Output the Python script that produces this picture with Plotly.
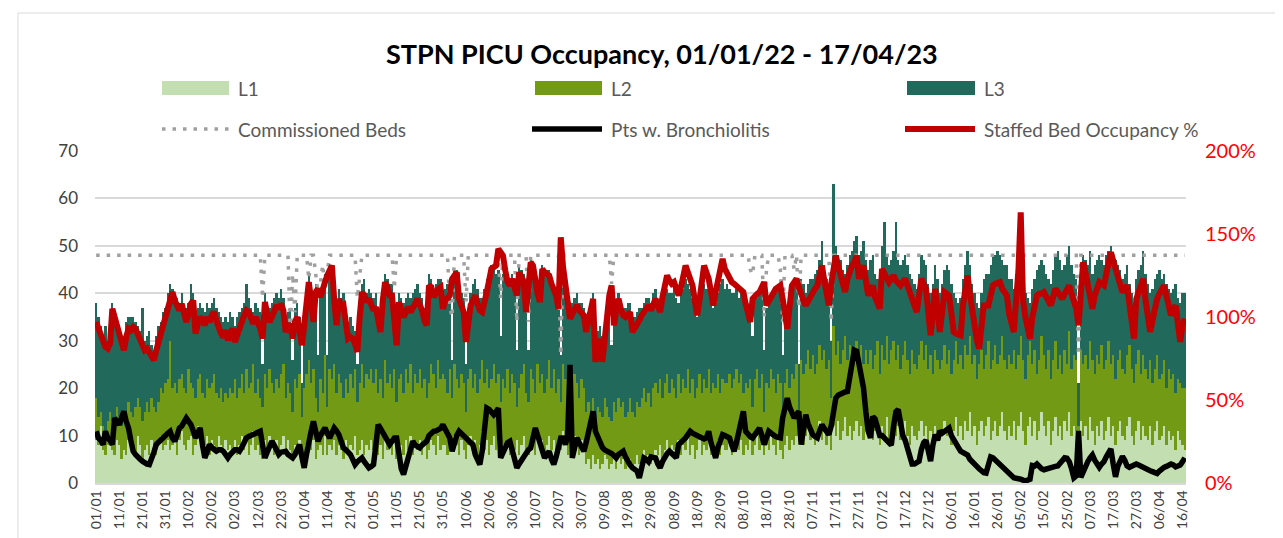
import pandas as pd
import plotly.graph_objects as go

start_date = "2022-01-01"

# ---- daily values, one row per month (Jan 2022 ... Apr 2023) ----
l1 = [
    9,8,12,7,6,8,10,7,6,9,8,5,7,6,9,8,7,6,10,8,5,7,8,6,9,7,6,8,10,7,8,
    9,7,8,10,6,9,11,8,7,9,10,6,8,12,9,7,8,10,6,9,8,7,10,8,6,9,7,8,
    7,9,6,8,10,7,9,6,8,11,7,8,6,5,9,7,10,8,6,9,7,8,10,6,9,7,5,8,6,9,5,
    6,8,10,7,9,5,7,8,6,10,6,8,7,9,6,8,7,5,9,6,8,7,10,6,7,9,6,8,7,9,
    7,9,6,8,5,10,7,8,6,9,5,7,8,6,9,7,10,6,8,7,9,6,8,5,7,9,8,6,10,7,8,
    8,6,9,7,10,8,6,9,7,5,8,10,7,9,6,8,11,7,9,6,8,10,7,9,6,8,7,9,6,8,
    7,9,6,8,10,7,6,9,8,6,10,7,9,6,8,10,7,9,6,8,7,11,8,6,9,7,10,8,6,9,7,
    4,5,3,6,4,5,3,4,6,5,3,4,5,3,6,4,5,3,4,5,3,4,6,4,5,7,5,6,4,6,7,
    6,8,5,7,9,6,8,7,5,9,6,8,7,10,6,8,5,7,9,6,8,7,10,6,8,7,9,6,8,7,
    7,9,6,8,10,7,9,6,8,7,9,6,8,10,7,9,6,8,7,10,8,6,9,7,5,8,10,7,9,8,10,
    9,11,8,10,12,9,11,8,10,13,9,11,8,10,7,12,10,13,9,11,14,10,12,9,11,13,10,12,9,11,
    10,12,9,11,13,8,12,10,14,9,11,13,10,12,9,11,13,10,8,12,10,9,11,13,10,12,9,11,8,12,10,
    9,11,13,10,12,8,11,14,10,12,9,13,11,15,10,12,8,11,13,10,12,14,9,11,13,10,12,15,11,9,12,
    10,13,9,12,15,11,8,12,14,10,13,9,11,15,12,10,13,8,11,14,10,12,9,13,11,15,10,12,
    11,5,13,10,12,9,14,11,8,12,10,13,9,11,14,10,12,8,11,13,10,9,12,14,10,8,11,13,9,12,10,
    9,12,8,11,13,9,10,12,8,11,9,10,7,11,9,8,7,
]
l2 = [
    9,6,3,5,5,5,5,6,6,7,6,7,6,8,8,7,7,10,8,8,8,8,9,9,9,9,9,9,10,12,13,
    13,23,12,11,13,13,12,12,12,15,11,14,10,10,14,12,10,12,14,12,15,12,8,12,11,10,11,12,
    12,13,12,12,13,12,15,14,13,14,12,14,12,11,14,13,14,13,13,13,13,15,15,12,12,12,10,14,14,14,9,
    14,15,16,14,15,13,8,14,13,17,10,16,15,16,13,15,14,13,13,13,15,13,14,11,14,16,14,15,15,15,
    14,15,13,14,13,16,14,15,14,15,12,15,15,13,15,14,15,13,15,14,15,14,14,13,14,16,15,14,16,15,15,
    14,13,15,11,15,14,14,14,14,10,14,14,13,14,13,14,15,14,15,14,14,15,14,14,11,14,13,15,13,15,
    14,7,14,15,15,12,11,15,14,13,15,14,14,13,14,16,13,15,13,14,10,14,14,12,12,12,13,13,12,13,13,
    11,12,11,12,9,11,12,10,12,11,11,9,12,12,12,12,12,11,11,13,12,10,11,12,13,13,12,13,12,14,14,
    13,14,13,14,14,13,14,13,13,14,13,14,13,14,13,14,13,13,14,13,14,13,14,13,13,13,14,13,14,14,
    14,14,14,14,14,14,14,13,13,13,13,10,14,14,13,14,9,13,13,14,14,13,14,14,9,13,14,13,14,14,15,
    6,15,15,15,16,15,16,15,15,16,17,17,16,16,11,21,17,17,16,17,17,16,17,16,17,17,16,17,16,17,
    15,16,15,16,17,15,17,16,17,16,17,17,16,17,15,16,17,16,15,16,15,15,16,17,16,17,15,16,15,16,16,
    15,15,16,15,16,15,15,16,15,15,15,16,16,16,15,15,14,14,15,14,15,16,15,15,16,15,15,16,15,15,15,
    15,15,15,15,16,15,14,15,16,15,15,14,15,16,15,14,15,14,15,16,14,15,14,15,14,17,14,15,
    15,7,15,15,15,15,16,15,15,15,15,16,15,15,16,15,15,14,15,15,14,14,15,15,14,13,14,15,14,15,14,
    13,14,13,13,14,13,13,14,12,13,13,13,12,11,12,12,13,
]
l3 = [
    20,21,18,19,22,17,17,25,24,18,19,19,17,20,18,20,21,18,15,16,24,15,14,17,11,12,16,16,14,17,16,
    18,12,21,19,20,16,17,17,18,14,21,20,17,15,15,18,18,16,17,17,16,18,18,15,17,16,16,16,
    16,11,17,16,14,19,18,19,16,11,19,15,18,9,17,18,13,17,20,18,19,18,14,17,15,18,11,15,18,12,7,
    17,17,18,20,14,24,12,19,24,17,11,22,23,16,18,18,18,22,14,15,12,13,8,8,17,17,23,17,19,16,
    18,16,18,13,23,18,22,19,22,14,16,18,16,19,15,19,14,21,18,21,16,19,15,18,23,18,18,22,17,21,17,
    19,23,19,8,20,23,22,17,18,10,15,16,22,20,22,17,13,20,19,25,24,20,23,22,14,22,24,19,23,21,
    22,12,26,22,19,20,11,23,24,25,17,19,23,26,23,19,23,18,22,17,10,19,20,22,16,19,16,19,20,16,17,
    20,19,24,22,18,16,18,17,16,22,26,16,19,23,22,22,20,23,23,20,20,21,19,21,19,18,22,20,22,20,20,
    18,14,20,19,18,21,18,21,21,15,21,19,23,18,22,17,19,15,15,21,20,21,16,20,16,18,17,23,21,20,
    21,18,20,18,17,18,17,20,16,15,12,15,17,15,20,18,13,16,18,15,18,21,18,21,13,15,10,17,18,20,18,
    10,17,19,15,14,19,16,21,20,18,25,18,19,14,12,30,23,18,22,17,13,20,19,24,23,22,22,20,26,19,
    20,19,24,17,13,19,21,29,17,21,19,19,29,18,22,20,18,20,21,15,17,17,17,18,21,17,18,13,19,18,17,
    16,16,16,21,17,19,14,9,13,12,19,17,22,15,17,13,16,12,12,19,17,14,22,22,19,24,21,16,20,22,16,
    18,13,20,19,14,16,18,12,8,16,15,22,20,16,19,20,15,20,19,18,25,20,22,18,23,18,22,17,
    17,9,17,23,20,22,19,18,23,20,23,18,22,22,19,25,21,25,20,17,19,21,19,13,16,17,18,17,23,22,20,
    20,14,20,19,17,23,20,18,22,17,18,18,23,17,17,20,20,
]
commissioned_beds = [
    48,48,48,48,48,48,48,48,48,48,48,48,48,48,48,48,48,48,48,48,48,48,48,48,48,48,48,48,48,48,48,
    48,48,48,48,48,48,48,48,48,48,48,48,48,48,48,48,48,48,48,48,48,48,48,48,48,48,48,48,
    48,48,48,48,48,48,48,48,48,48,48,48,48,39,48,48,48,48,48,48,48,48,48,48,48,31,44,36,48,48,48,
    48,48,43,48,48,44,40,42,46,41,44,48,48,48,48,48,48,48,48,48,48,48,48,39,44,48,48,48,48,48,
    48,48,48,48,48,48,48,48,48,41,48,48,48,48,48,48,48,48,48,48,48,48,48,48,48,48,48,48,48,48,48,
    48,48,37,35,48,48,48,48,48,38,48,48,48,48,48,48,48,48,48,48,48,48,48,48,39,48,48,48,48,48,
    48,34,48,48,48,48,34,48,48,48,48,48,48,48,48,48,48,48,48,48,27,48,48,48,48,48,48,48,48,48,48,
    48,48,48,48,48,48,48,48,48,48,48,42,48,48,48,48,48,48,48,48,48,48,48,48,48,48,48,48,48,48,48,
    48,48,48,48,48,48,48,48,48,48,48,48,48,48,48,48,48,48,48,48,48,48,48,48,48,48,48,48,48,48,
    48,48,48,48,48,48,48,48,48,48,45,44,48,48,48,48,35,45,48,48,48,48,48,45,34,48,48,48,48,45,48,
    37,48,48,48,48,48,48,48,48,48,48,48,48,48,34,48,48,48,48,48,48,48,48,48,48,48,48,48,48,48,
    48,48,48,48,48,48,48,48,48,48,48,48,48,48,48,48,48,48,48,48,48,48,48,48,48,48,48,48,48,48,48,
    48,48,48,48,48,48,48,48,48,48,48,48,48,48,48,48,48,48,48,48,48,48,48,48,48,48,48,48,48,48,48,
    48,48,48,48,48,48,48,48,48,48,48,48,48,48,48,48,48,48,48,48,48,48,48,48,48,48,48,48,
    48,27,48,48,48,48,48,48,48,48,48,48,48,48,48,48,48,48,48,48,48,48,48,48,48,48,48,48,48,48,48,
    48,48,48,48,48,48,48,48,48,48,48,48,48,48,48,48,48,
]
bronchiolitis = [
    10.9,9.5,9,8.1,10.9,9.5,9,8.1,13.7,13,12.3,13.7,15.1,13,11.6,9,6.7,6,5.3,5,4.6,4.2,4,3.9,5,6.5,8.1,8.5,9,9.5,10,
    10.5,10.9,9.5,8.8,10,11.6,12,13,13.7,13,12.3,11,9.5,10.5,11.6,8,5.3,6.5,8.1,7.5,7,6.7,7,7,6.7,6,5.3,6,
    6.7,7,7,6.7,7.5,8.5,9.5,9.8,10,10.2,10.5,10.5,10.9,8,5.3,6.5,7.4,8.8,8,7,6,6.5,6.5,6.7,6,5.5,5.3,6,7,8.1,5.5,
    3.2,6,9,10.9,13,10.5,8.8,10,11,11.6,10.5,9.5,10.5,11.6,11,10.2,8.8,7.4,7,6.5,6,5,3.9,4.5,5,5.3,4.5,3.8,3.2,3.5,
    3.9,8,12.3,11.5,10.5,9.5,8.8,8.1,8.8,9.5,9.5,6,3,1.8,3.5,5.3,7,8.8,8,7.5,7.4,8,8.5,8.8,10,10.5,10.9,11,11.2,11.5,12.3,
    11.5,10.5,9.5,6.7,8.5,10,10.9,10.5,10,9.5,9,8.5,8.1,6,4.5,3.9,6.7,11,15.8,15.5,15,14.4,15,15.8,5.3,6.5,7.5,8.5,8.8,6.5,
    4.5,3.2,4,4.8,5.3,6.5,7,7.4,9.5,11.6,10,8.1,6.5,5.3,6,6.7,5,3.9,5.5,7.5,9.5,9.5,8.1,10,24.9,5.3,7.5,9.5,8.5,7.5,6.7,
    8.5,10.9,13,15.1,10.9,9.5,8.1,7.5,7,6.8,6.7,6.2,5.8,5.3,6,6.5,6.7,5.5,4.5,3.8,3.2,2.8,2.5,1.1,3,5.3,5,4.5,5.5,5.3,5.3,
    4,3.2,4.5,5.5,6.2,6.7,6.3,5.8,5.3,8.1,8.5,9,9.5,10.2,10.9,10.5,10.2,10.2,9.8,9.5,9.3,9.5,10.9,8.5,6.5,5.3,7.5,9,10.2,10,
    9.8,9.5,8,6.7,8.5,10.9,13,15.1,10.9,10.2,9.8,9.5,10.3,11,11.6,10,8.1,9.5,10.9,10.5,10,9.8,9.6,9.5,13.7,16,17.9,16,14.5,13.7,14.5,
    15.1,8.1,11,14.4,12.5,10.9,10.2,9.8,9.5,11,12.3,11.5,10.8,10.2,12,15,17.9,18.5,18.8,19,19.2,19.3,22,24.9,28,27.8,25,22,20,15,
    11,9.5,14,13.5,11,10,10,9.5,9,8.5,8,12,15,15.5,12,10,9,7,5,4,4,4.2,4.6,7,8.5,9,6,4.6,8,10.2,9,
    11,10.5,11,11.5,11.6,10,9,8.5,7.5,6.7,6.5,6,5.9,5,4.6,4,3.5,3,2.5,2.2,2.1,4,5.5,5.3,4.8,4.5,4.2,3.5,3,2.5,1.9,
    1.5,1.1,1,1,0.8,0.6,0.4,0.6,0.8,3.7,3.6,4,3.4,3,2.8,3,3.1,3.2,3.3,3.5,3.6,4.2,4.6,5.3,5.2,4.5,3,1.1,
    1.5,11,1.2,2.5,4,4.5,5.3,5.9,4.8,3.8,3.3,4,4.5,5.5,6.5,7.2,4,1.3,3.5,4.5,5.6,4.8,3.6,3.3,3.6,3.9,4,3.8,3.5,3.3,3,
    2.8,2.6,2.4,2.2,2,2.5,3,3.3,3.5,3.7,4,3.8,3.4,3.6,3.8,4.5,5.3,
]
staffed_occupancy_pct = [
    97,93,88,84,82,81,84,105,100,92,87,83,80,88,93,92,94,93,90,87,82,80,81,79,76,74,80,85,90,95,100,
    108,112,115,110,106,104,108,100,97,102,108,110,90,96,100,98,95,100,97,101,103,98,93,90,88,92,86,90,
    93,85,90,95,97,101,104,103,100,96,100,97,93,87,109,102,97,100,104,107,105,108,104,91,94,96,87,97,100,91,83,
    95,107,121,110,97,115,117,112,118,121,125,128,131,110,95,111,106,107,95,87,88,87,84,79,100,115,113,109,111,108,
    104,106,97,91,110,121,118,113,113,100,83,109,104,100,103,106,103,105,108,111,108,104,98,95,119,118,112,115,117,118,105,
    110,112,113,123,125,127,111,106,103,85,98,107,110,113,108,104,103,108,115,122,129,130,131,141,139,137,128,121,119,123,
    118,113,127,124,121,103,118,133,131,119,114,109,129,127,126,125,120,116,113,105,148,130,119,108,99,102,105,107,104,103,101,
    91,98,105,111,73,80,87,73,90,107,113,119,95,104,111,105,101,100,102,103,91,93,95,98,101,103,105,107,104,108,111,
    107,103,112,119,125,122,120,121,117,113,118,123,131,127,123,119,110,101,110,119,131,127,123,115,107,115,121,127,135,129,
    126,123,121,120,119,117,116,115,108,102,97,111,113,114,115,118,121,107,110,113,115,117,118,119,111,102,93,106,119,121,123,
    118,113,110,107,110,113,115,117,119,125,131,122,114,107,120,130,137,131,125,120,115,123,129,131,133,137,123,127,131,122,
    113,116,119,112,108,105,129,126,123,121,123,125,122,120,119,121,123,119,115,110,106,103,113,123,120,117,103,89,103,117,104,
    91,103,115,114,113,102,91,90,89,89,107,116,125,114,103,92,86,81,94,107,107,107,113,119,120,121,121,117,115,113,102,
    96,91,110,128,163,110,100,93,87,100,108,113,114,114,115,112,110,107,112,117,115,113,111,114,117,119,114,108,
    105,95,118,133,127,121,113,105,113,118,121,120,119,126,133,139,134,129,124,119,115,117,119,108,97,87,111,116,120,123,110,
    97,91,98,105,111,114,117,119,113,107,101,104,107,96,85,95,99,
]

left_ticks = [0, 10, 20, 30, 40, 50, 60, 70]
right_ticks = [0, 50, 100, 150, 200]

n = len(l1)
for s in (l2, l3, commissioned_beds, bronchiolitis, staffed_occupancy_pct):
    assert len(s) == n, len(s)

dates = pd.date_range(start_date, periods=n)
x = list(range(n))
tick_idx = list(range(0, n, 10))
tick_text = [dates[i].strftime("%d/%m") for i in tick_idx]

# pixel -> paper helpers (plot area 87..1178 x 143..475)
L, R, T, B = 87, 1178, 143, 475
def px(v):
    return (v - L) / (R - L)
def py(v):
    return (B - v) / (B - T)

FONT = "Lato"
fig = go.Figure()
fig.add_bar(x=x, y=l1, name="L1", marker=dict(color="#C3DFB1", line=dict(width=0)))
fig.add_bar(x=x, y=l2, name="L2", marker=dict(color="#729A15", line=dict(width=0)))
fig.add_bar(x=x, y=l3, name="L3", marker=dict(color="#21695A", line=dict(width=0)))
fig.add_scatter(x=x, y=commissioned_beds, mode="lines", name="Commissioned Beds",
                line=dict(color="#A0A0A0", width=3.5, dash="3.5px,7px"))
fig.add_scatter(x=x, y=bronchiolitis, mode="lines", name="Pts w. Bronchiolitis",
                line=dict(color="#000000", width=5.5))
fig.add_scatter(x=x, y=[v / 100 for v in staffed_occupancy_pct], mode="lines",
                name="Staffed Bed Occupancy %", yaxis="y2",
                line=dict(color="#C00000", width=6))

shapes = [
    dict(type="rect", xref="paper", yref="paper", x0=px(10), x1=px(1295), y0=py(534), y1=py(5),
         line=dict(color="#D9D9D9", width=1), fillcolor="rgba(0,0,0,0)", layer="below"),
]
annotations = [
    dict(text="<b>STPN PICU Occupancy, 01/01/22 - 17/04/23</b>", xref="paper", yref="paper",
         x=px(654), y=py(45), xanchor="center", yanchor="middle", showarrow=False,
         font=dict(family=FONT, size=27, color="#000000")),
]
leg_font = dict(family=FONT, size=19, color="#595959")
row1, row2 = 80, 121
for (x0, x1, col, label) in [(154, 221, "#C3DFB1", "L1"), (527, 594, "#729A15", "L2"),
                             (899, 967, "#21695A", "L3")]:
    shapes.append(dict(type="rect", xref="paper", yref="paper", x0=px(x0), x1=px(x1),
                       y0=py(row1 + 7), y1=py(row1 - 7), fillcolor=col, line=dict(width=0)))
    annotations.append(dict(text=label, xref="paper", yref="paper", x=px(x1 + 7), y=py(row1),
                            xanchor="left", yanchor="middle", showarrow=False, font=leg_font))
for (x0, x1, col, w, dash, label) in [
        (154, 221, "#A0A0A0", 3.5, "3.5px,7px", "Commissioned Beds"),
        (524, 594, "#000000", 5.5, "solid", "Pts w. Bronchiolitis"),
        (897, 967, "#C00000", 6, "solid", "Staffed Bed Occupancy %")]:
    shapes.append(dict(type="line", xref="paper", yref="paper", x0=px(x0), x1=px(x1),
                       y0=py(row2), y1=py(row2), line=dict(color=col, width=w, dash=dash)))
    annotations.append(dict(text=label, xref="paper", yref="paper", x=px(x1 + 7), y=py(row2),
                            xanchor="left", yanchor="middle", showarrow=False, font=leg_font))

fig.update_layout(
    width=1283, height=538,
    margin=dict(l=L, r=1283 - R, t=T, b=538 - B),
    paper_bgcolor="white", plot_bgcolor="white",
    barmode="stack", bargap=0,
    showlegend=False,
    font=dict(family=FONT),
    shapes=shapes, annotations=annotations,
    xaxis=dict(range=[-0.5, n - 0.5], tickmode="array", tickvals=tick_idx, ticktext=tick_text,
               tickangle=-90, tickfont=dict(family=FONT, size=14, color="#404040"),
               showgrid=False, zeroline=False, showline=True, linecolor="#D9D9D9", linewidth=1.5,
               ticks=""),
    yaxis=dict(range=[0, 70], tickmode="array", tickvals=left_ticks,
               tickfont=dict(family=FONT, size=17, color="#404040"),
               showgrid=True, gridcolor="#D9D9D9", gridwidth=1.5, zeroline=False,
               ticks="", ticklabelstandoff=16),
    yaxis2=dict(range=[0, 2], overlaying="y", side="right", tickmode="array",
                tickvals=[v / 100 for v in right_ticks], ticktext=[f"{v}%" for v in right_ticks],
                tickfont=dict(family=FONT, size=20, color="#FF0000"),
                showgrid=False, zeroline=False, ticks="", ticklabelstandoff=18),
)

fig.write_html("out.html")
